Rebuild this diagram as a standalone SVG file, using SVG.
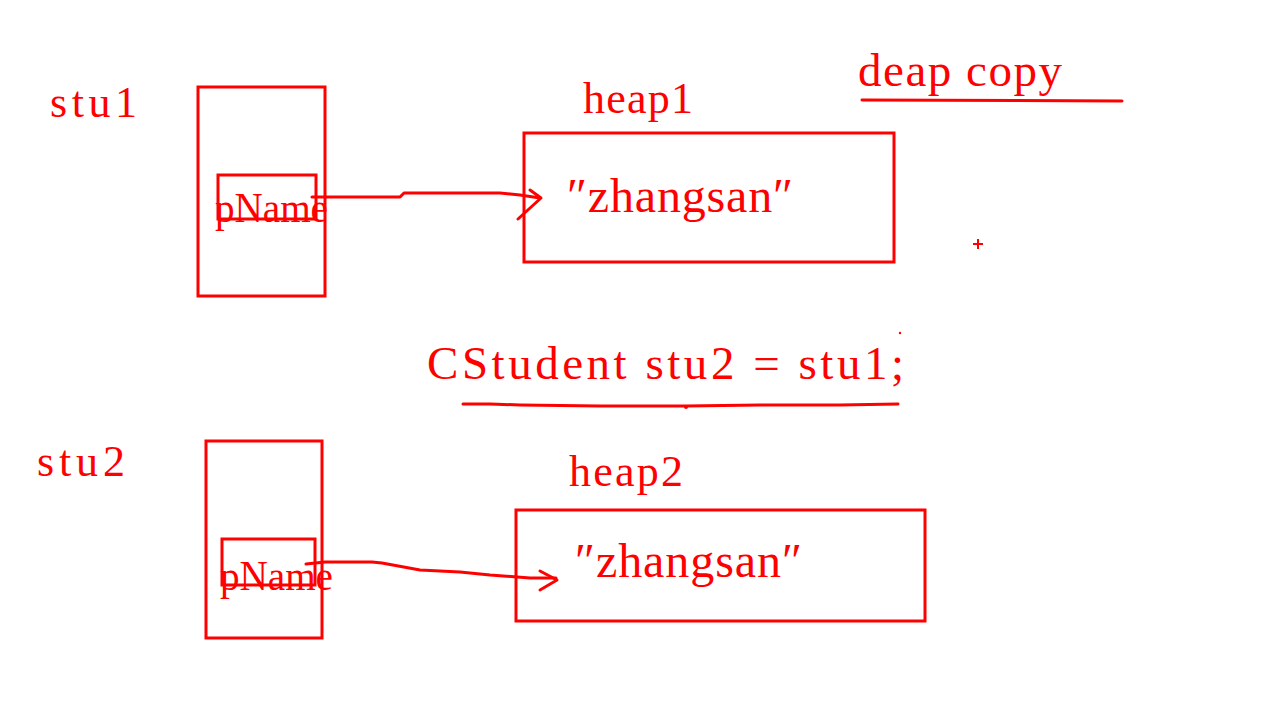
<svg xmlns="http://www.w3.org/2000/svg" width="1280" height="720" viewBox="0 0 1280 720">
<style>
text{font-family:"Liberation Serif","DejaVu Serif",serif;fill:#ff0000;}
.box{fill:none;stroke:#ff0000;stroke-width:3;}
.ink{fill:none;stroke:#ff0000;stroke-width:3;stroke-linecap:round;stroke-linejoin:round;}
</style>
<rect width="1280" height="720" fill="#ffffff"/>
<g id="labels">
<text x="50" y="117" font-size="44" textLength="87" lengthAdjust="spacing">stu1</text>
<text x="37" y="476" font-size="44" textLength="88" lengthAdjust="spacing">stu2</text>
<text x="858" y="86" font-size="47" textLength="204" lengthAdjust="spacing">deap copy</text>
<line class="ink" x1="862" y1="100" x2="1122" y2="101"/>
<text x="427" y="379" font-size="47" textLength="477" lengthAdjust="spacing">CStudent stu2 = stu1;</text>
<path class="ink" d="M463,404 L490,404 L520,405 L600,406 L686,406 L760,405 L840,405 L898,404"/>
<circle cx="686" cy="407" r="2" fill="#ff0000"/>
<circle cx="900" cy="333" r="1.2" fill="#ff0000"/>
<path d="M978,239 V249 M973,244 H983" stroke="#ff0000" stroke-width="2"/>
</g>
<g id="stu1">
<rect class="box" x="198" y="87" width="127" height="209"/>
<rect class="box" x="218" y="175" width="98" height="44"/>
<text x="215" y="222" font-size="42" textLength="113" lengthAdjust="spacingAndGlyphs">pName</text>
</g>
<g id="heap1">
<text x="583" y="113" font-size="44" textLength="110" lengthAdjust="spacing">heap1</text>
<rect class="box" x="524" y="133" width="370" height="129"/>
<text x="567" y="212" font-size="48" textLength="226" lengthAdjust="spacing">″zhangsan″</text>
</g>
<g id="stu2">
<rect class="box" x="206" y="441" width="116" height="197"/>
<rect class="box" x="222" y="539" width="93" height="46"/>
<text x="220" y="590" font-size="42" textLength="113" lengthAdjust="spacingAndGlyphs">pName</text>
</g>
<g id="heap2">
<text x="569" y="486" font-size="44" textLength="114" lengthAdjust="spacing">heap2</text>
<rect class="box" x="516" y="510" width="409" height="111"/>
<text x="575" y="577" font-size="48" textLength="227" lengthAdjust="spacing">″zhangsan″</text>
</g>
<g id="connectors">
<path class="ink" d="M312,197 L400,197 L404,193 L500,193 L520,195 L540,198"/>
<path class="ink" d="M530,190 L541,198 L518,219"/>
<path class="ink" d="M306,564 L325,562 L372,562 L382,563 L420,570 L460,572 L490,575 L530,578 L556,578"/>
<path class="ink" d="M540,571 L557,580 L540,590"/>
</g>
</svg>
